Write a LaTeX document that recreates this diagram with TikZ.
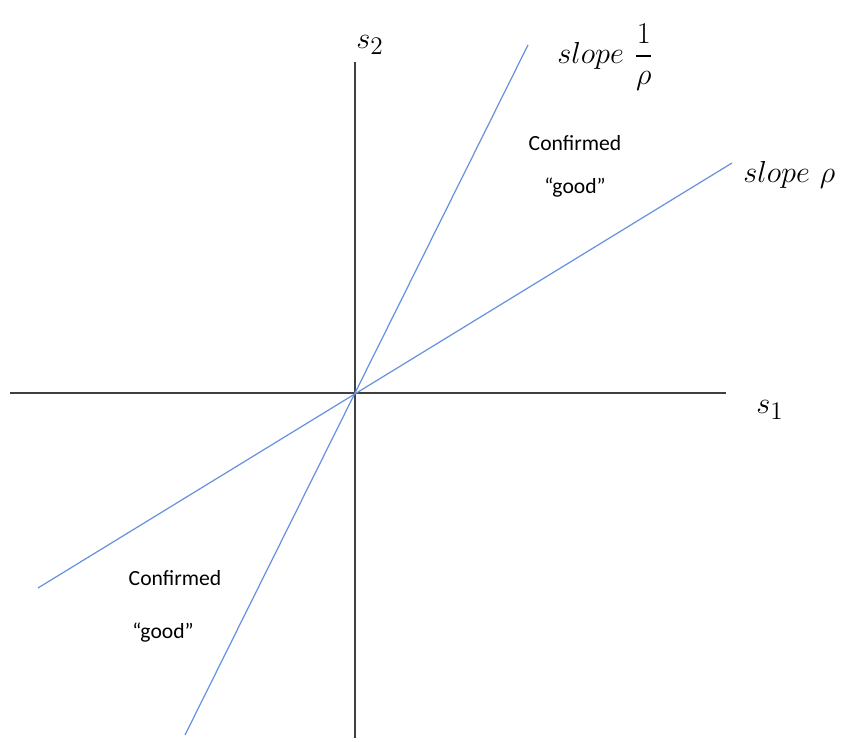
\documentclass[tikz,border=0pt]{standalone}
\usepackage{amsmath}
\usepackage{fontspec}
\newfontfamily\calib{Carlito}
\usepackage{tikz}
\definecolor{lineblue}{RGB}{104,146,222}
\tikzset{
  axis/.style={draw=black!75, line width=0.8pt},
  slopeline/.style={draw=lineblue, line width=0.7pt},
  mathlbl/.style={font=\fontsize{19}{22}\selectfont, inner sep=0pt},
  regionlbl/.style={font=\calib\fontsize{12.3}{15}\selectfont, align=center, inner sep=0pt}
}
\begin{document}
\begin{tikzpicture}
    % fixed frame, 50px per cm, origin where the axes cross
    \useasboundingbox (-7.1,-6.98) rectangle (9.86,7.86);
    \coordinate (O) at (0,0);

    % axes
    \coordinate (xl) at (-6.9,0);
    \coordinate (xr) at (7.42,0);
    \coordinate (yb) at (0,-6.9);
    \coordinate (yt) at (0,6.62);
    \draw[axis] (xl) -- (xr);
    \draw[axis] (yb) -- (yt);
    \node[mathlbl] (s1) at (8.3,-0.34) {$s_1$};
    \node[mathlbl] (s2) at (0.3,6.96) {$s_2$};

    % the two lines through the origin
    \coordinate (steepbot) at (-3.4,-6.84);
    \coordinate (steeptop) at (3.46,6.96);
    \coordinate (flatbot) at (-6.34,-3.9);
    \coordinate (flattop) at (7.54,4.6);
    \draw[slopeline] (steepbot) -- (steeptop);
    \draw[slopeline] (flatbot) -- (flattop);
    \node[mathlbl, anchor=west] (steeplbl) at (4.04,6.72) {$slope\ \dfrac{1}{\rho}$};
    \node[mathlbl, anchor=west] (flatlbl) at (7.76,4.36) {$slope\ \rho$};

    % region labels
    \node[regionlbl] (goodtop) at (4.4,5.0) {Confirmed};
    \node[regionlbl] (goodtopq) at (4.4,4.1) {“good”};
    \node[regionlbl] (goodbot) at (-3.6,-3.7) {Confirmed};
    \node[regionlbl] (goodbotq) at (-3.84,-4.8) {“good”};
\end{tikzpicture}
\end{document}
